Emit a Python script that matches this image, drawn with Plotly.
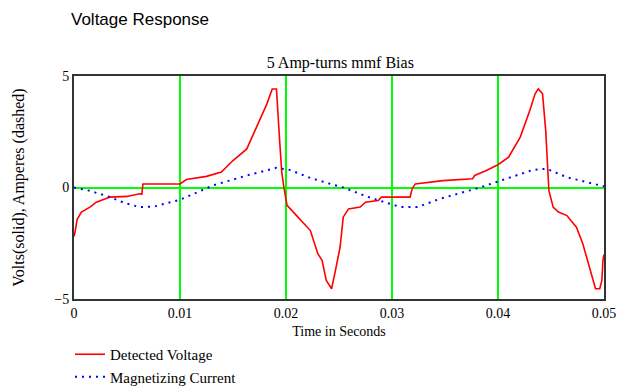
import plotly.graph_objects as go

# Detected voltage (V) vs time (s)
t_volt = [0.0, 0.0001, 0.0003, 0.0007, 0.0015, 0.0021, 0.0034, 0.0050, 0.0062, 0.0064,
          0.0065, 0.0100, 0.0106, 0.0125, 0.0139, 0.0150, 0.0163, 0.0172, 0.0182, 0.0187,
          0.0191, 0.0194, 0.0196, 0.0198, 0.0201, 0.0210, 0.0223, 0.0230, 0.0234, 0.0238,
          0.0243, 0.0246, 0.0251, 0.0254, 0.0259, 0.0270, 0.0275, 0.0287, 0.0290, 0.0317,
          0.0319, 0.0322, 0.0348, 0.0376, 0.0378, 0.0389, 0.0400, 0.0410, 0.0421, 0.0430,
          0.0435, 0.0438, 0.0442, 0.0445, 0.0448, 0.0452, 0.0457, 0.0465, 0.0474, 0.0480,
          0.0487, 0.0492, 0.0496, 0.0498, 0.0499, 0.0500]
v_volt = [-2.2, -2.0, -1.43, -1.1, -0.88, -0.66, -0.43, -0.40, -0.28, -0.30,
          0.16, 0.16, 0.36, 0.50, 0.69, 1.21, 1.73, 2.70, 3.75, 4.42,
          4.42, 2.10, 0.69, 0.0, -0.80, -1.26, -1.93, -2.97, -3.27, -4.17,
          -4.54, -3.87, -2.68, -1.33, -0.96, -0.88, -0.66, -0.58, -0.43, -0.43,
          -0.06, 0.16, 0.31, 0.39, 0.54, 0.76, 1.02, 1.36, 2.26, 3.45,
          4.20, 4.42, 4.20, 2.56, -0.13, -0.88, -1.10, -1.26, -1.78, -2.52,
          -3.72, -4.54, -4.54, -4.17, -3.27, -3.0]

# Magnetizing current (A) vs time (s)
t_curr = [0.0, 0.0015, 0.0034, 0.0048, 0.0062, 0.0076, 0.0100, 0.0131, 0.0163, 0.0191,
          0.0204, 0.0223, 0.0242, 0.0254, 0.0276, 0.0308, 0.0324, 0.0345, 0.0383, 0.0402,
          0.0433, 0.0446, 0.0465, 0.0500]
i_curr = [0.0, -0.15, -0.43, -0.70, -0.88, -0.85, -0.55, 0.09, 0.54, 0.88,
          0.78, 0.43, 0.16, 0.0, -0.40, -0.88, -0.88, -0.51, 0.0, 0.31,
          0.79, 0.84, 0.46, 0.05]

x_ticks = [0, 0.01, 0.02, 0.03, 0.04, 0.05]
x_tick_text = ["0", "0.01", "0.02", "0.03", "0.04", "0.05"]
y_ticks = [-5, 0, 5]
y_tick_text = ["\u22125", "0", "5"]

serif = "Liberation Serif, Times New Roman, serif"
PLOT_H = 387 - 76 - 88
PLOT_W = 621 - 74 - 17

fig = go.Figure()
fig.add_trace(go.Scatter(x=t_volt, y=v_volt, mode="lines", name="Detected Voltage",
                         line=dict(color="#ff0000", width=1.6)))
fig.add_trace(go.Scatter(x=t_curr, y=i_curr, mode="lines", name="Magnetizing Current",
                         line=dict(color="#0000ff", width=2, dash="2px,5px")))

fig.update_layout(
    width=621, height=387,
    margin=dict(l=74, r=17, t=76, b=88, autoexpand=False),
    paper_bgcolor="white", plot_bgcolor="white",
    font=dict(family=serif, size=13, color="black"),
    title=dict(text="5 Amp-turns mmf Bias", x=0.548, xanchor="center",
               y=1 - 62 / 387, yanchor="middle",
               font=dict(family=serif, size=16, color="black")),
    showlegend=True,
    legend=dict(x=-4 / PLOT_W, y=-39 / PLOT_H, xanchor="left", yanchor="top",
                bgcolor="rgba(0,0,0,0)", font=dict(family=serif, size=15),
                tracegroupgap=0, itemwidth=30),
    annotations=[dict(text="Voltage Response", xref="paper", yref="paper",
                      x=(69 - 74) / PLOT_W, y=(299 - 20) / PLOT_H,
                      xanchor="left", yanchor="middle", showarrow=False,
                      font=dict(family="Liberation Sans, Arial, sans-serif", size=17,
                                color="black"))],
)

fig.update_xaxes(range=[0, 0.05], tickvals=x_ticks, ticktext=x_tick_text,
                 showgrid=True, gridcolor="#00ff00", gridwidth=2,
                 zeroline=False, showline=True, mirror=True,
                 linecolor="#333333", linewidth=2, ticks="",
                 tickfont=dict(family=serif, size=14),
                 title=dict(text="Time in Seconds", font=dict(family=serif, size=14),
                            standoff=6))
fig.update_yaxes(range=[-5, 5], tickvals=y_ticks, ticktext=y_tick_text,
                 showgrid=True, gridcolor="#00ff00", gridwidth=2,
                 zeroline=False, showline=True, mirror=True,
                 linecolor="#333333", linewidth=2, ticks="",
                 tickfont=dict(family=serif, size=14),
                 title=dict(text="Volts(solid), Amperes (dashed)",
                            font=dict(family=serif, size=16), standoff=26))

fig.write_html("out.html")
